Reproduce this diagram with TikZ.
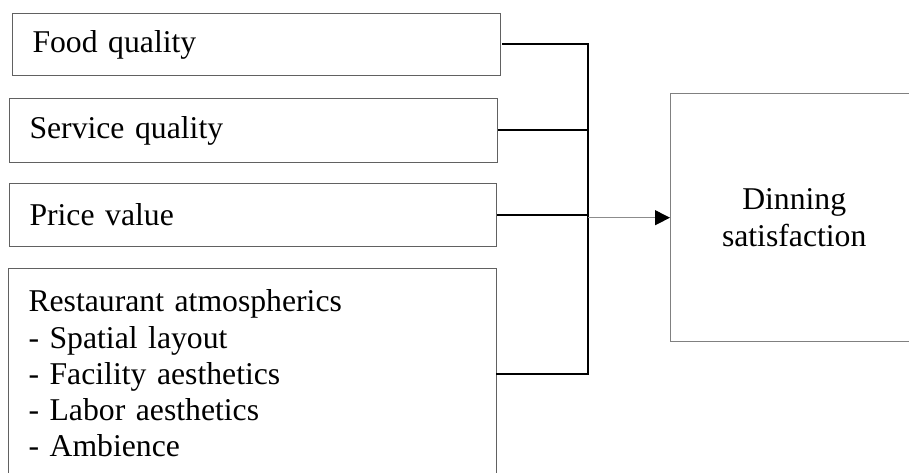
\documentclass[tikz,border=0pt]{standalone}
\usepackage{fontspec}
\setmainfont{Liberation Serif}
\usetikzlibrary{arrows.meta}
\begin{document}
\begin{tikzpicture}[x=1pt,y=-1pt,
  inbox/.style={draw=black!62, line width=1pt, anchor=north west, inner xsep=20pt, inner ysep=0pt,
    align=left, font=\fontsize{31.7}{36.3}\selectfont},
  outbox/.style={anchor=north west, inner sep=0pt,
    align=center, font=\fontsize{31.7}{36.3}\selectfont},
  outline/.style={draw=black!50, line width=1pt},
  bus/.style={line width=2pt, black},
  thinbus/.style={line width=1.3pt, black},
  arr/.style={line width=0.9pt, black!45, -{Triangle[length=15pt,width=15pt,color=black]}}]
\useasboundingbox (0,0) rectangle (909,473);
\clip (0,0) rectangle (909,473);
\node[inbox, minimum width=488pt, minimum height=62pt, text width=448pt] (b1) at (12,13) {Food quality};
\node[inbox, minimum width=488pt, minimum height=64pt, text width=448pt] (b2) at (9,98) {Service quality};
\node[inbox, minimum width=487pt, minimum height=63pt, text width=447pt] (b3) at (9,183) {Price value};
\node[inbox, minimum width=488pt, minimum height=210pt, text width=448pt] (b4) at (8,268) {Restaurant atmospherics\\- Spatial layout\\- Facility aesthetics\\- Labor aesthetics\\- Ambience};
\node[outbox, minimum width=248pt, minimum height=247pt] (d) at (670,94) {Dinning\\satisfaction};
\draw[outline] (d.north east) -- (d.north west) -- (d.south west) -- (d.south east);
\coordinate (j) at (588,44);
\draw[bus, line cap=rect] ([xshift=2pt]b1.east) -- (b1.east -| j) -- (b4.east -| j) -- (b4.east);
\draw[bus] (b2.east) -- (b2.east -| j);
\draw[thinbus] (b3.east) -- (b3.east -| j);
\draw[arr] (d.west -| j) -- (d.west);
\end{tikzpicture}
\end{document}
